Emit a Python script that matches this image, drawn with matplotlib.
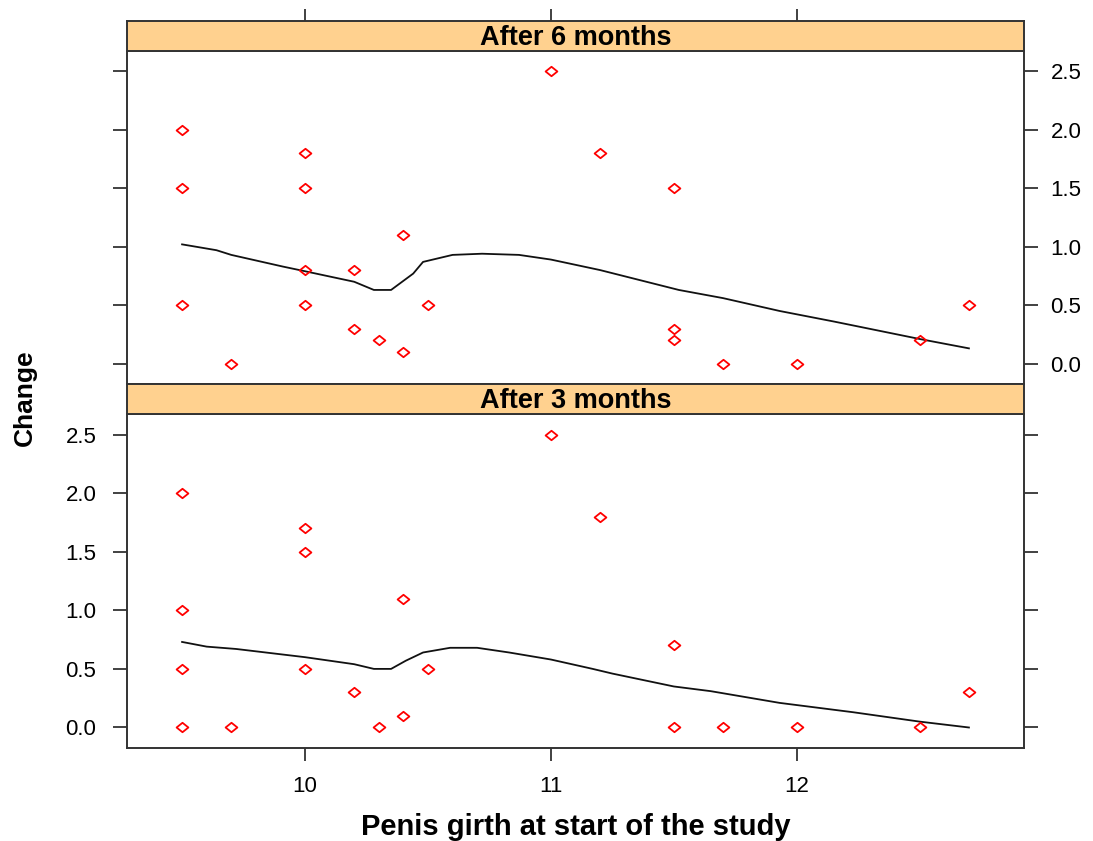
import matplotlib
matplotlib.use("Agg")
import matplotlib.pyplot as plt
from matplotlib.path import Path

plt.rcParams['font.family'] = ['Liberation Sans', 'DejaVu Sans']

# ---- data ----
panel_titles = ["After 6 months", "After 3 months"]

x6 = [9.5, 9.5, 9.5, 9.7, 10.0, 10.0, 10.0, 10.0, 10.2, 10.2, 10.3, 10.4, 10.4,
      10.5, 11.0, 11.2, 11.5, 11.5, 11.5, 11.7, 12.0, 12.5, 12.7]
y6 = [2.0, 1.5, 0.5, 0.0, 1.8, 1.5, 0.8, 0.5, 0.8, 0.3, 0.2, 1.1, 0.1,
      0.5, 2.5, 1.8, 1.5, 0.3, 0.2, 0.0, 0.0, 0.2, 0.5]

x3 = [9.5, 9.5, 9.5, 9.5, 9.7, 10.0, 10.0, 10.0, 10.2, 10.3, 10.4, 10.4,
      10.5, 11.0, 11.2, 11.5, 11.5, 11.7, 12.0, 12.5, 12.7]
y3 = [2.0, 1.0, 0.5, 0.0, 0.0, 1.7, 1.5, 0.5, 0.3, 0.0, 1.1, 0.1,
      0.5, 2.5, 1.8, 0.7, 0.0, 0.0, 0.0, 0.0, 0.3]

# smoother curves
sx6 = [9.5, 9.64, 9.7, 9.91, 10.0, 10.2, 10.28, 10.35, 10.44, 10.48, 10.6, 10.72,
       10.87, 11.0, 11.2, 11.52, 11.7, 11.93, 12.15, 12.5, 12.7]
sy6 = [1.02, 0.97, 0.93, 0.83, 0.79, 0.70, 0.63, 0.63, 0.77, 0.87, 0.93, 0.94,
       0.93, 0.89, 0.80, 0.63, 0.56, 0.45, 0.36, 0.21, 0.13]

sx3 = [9.5, 9.6, 9.72, 10.0, 10.2, 10.28, 10.35, 10.41, 10.48, 10.59, 10.7,
       10.83, 11.0, 11.17, 11.25, 11.5, 11.65, 11.93, 12.23, 12.5, 12.7]
sy3 = [0.73, 0.69, 0.67, 0.60, 0.54, 0.50, 0.50, 0.57, 0.64, 0.68, 0.68,
       0.64, 0.58, 0.50, 0.46, 0.35, 0.31, 0.21, 0.13, 0.05, 0.0]

xticks = [10, 11, 12]
yticks = [0.0, 0.5, 1.0, 1.5, 2.0, 2.5]
ytick_labels = ["0.0", "0.5", "1.0", "1.5", "2.0", "2.5"]

xlabel = "Penis girth at start of the study"
ylabel = "Change"

# ---- layout ----
W, H = 1093, 841
fig = plt.figure(figsize=(W / 100, H / 100), dpi=100)

def fx(px):
    return px / W

def fy(py):
    return 1 - py / H

left, right = 127, 1024
frame_col = "#333333"
strip_col = "#FFD18F"

diamond = Path([(-1, 0), (0, 0.8), (1, 0), (0, -0.8), (-1, 0)],
               [Path.MOVETO, Path.LINETO, Path.LINETO, Path.LINETO, Path.CLOSEPOLY])

xmin, xmax = 9.276, 12.924
ymin, ymax = -0.175, 2.675

panels = [
    dict(title=panel_titles[0], x=x6, y=y6, sx=sx6, sy=sy6, strip=(21, 51), plot=(51, 384), top=True),
    dict(title=panel_titles[1], x=x3, y=y3, sx=sx3, sy=sy3, strip=(384, 414), plot=(414, 748), top=False),
]

tick_fs = 16

for p in panels:
    s0, s1 = p["strip"]
    p0, p1 = p["plot"]
    ax = fig.add_axes([fx(left), fy(p1), fx(right - left), (p1 - p0) / H])
    sax = fig.add_axes([fx(left), fy(s1), fx(right - left), (s1 - s0) / H])

    ax.plot(p["sx"], p["sy"], color="#111111", lw=1.3, zorder=2)
    ax.plot(p["x"], p["y"], linestyle="none", marker=diamond, markersize=8.5,
            markerfacecolor="none", markeredgecolor="#FF0000", markeredgewidth=1.3, zorder=3)
    ax.set_xlim(xmin, xmax)
    ax.set_ylim(ymin, ymax)
    ax.set_xticks(xticks)
    ax.set_yticks(yticks)
    ax.set_yticklabels(ytick_labels)
    for sp in ax.spines.values():
        sp.set_color(frame_col)
        sp.set_linewidth(1.4)
    ax.tick_params(axis="y", direction="out", length=10, width=1.3, color=frame_col,
                   labelsize=tick_fs, labelcolor="black")
    ax.tick_params(axis="x", direction="out", length=9, width=1.3, color=frame_col,
                   labelsize=tick_fs, labelcolor="black", pad=11)
    if p["top"]:
        ax.tick_params(axis="x", bottom=False, labelbottom=False, top=False)
        ax.tick_params(axis="y", left=True, labelleft=False, right=True, labelright=True, pad=9)
    else:
        ax.tick_params(axis="x", bottom=True, labelbottom=True, top=False)
        ax.tick_params(axis="y", left=True, labelleft=True, right=True, labelright=False, pad=12)

    sax.set_facecolor(strip_col)
    sax.set_xlim(xmin, xmax)
    sax.set_ylim(0, 1)
    sax.set_yticks([])
    for sp in sax.spines.values():
        sp.set_color(frame_col)
        sp.set_linewidth(1.4)
    if p["top"]:
        sax.set_xticks(xticks)
        sax.tick_params(axis="x", bottom=False, labelbottom=False, top=True, labeltop=False,
                        direction="out", length=9, width=1.3, color=frame_col)
    else:
        sax.set_xticks([])
    sax.text(0.5, 0.42, p["title"], transform=sax.transAxes, ha="center", va="center",
             fontsize=19.5, fontweight="bold")

fig.text(fx((left + right) / 2), fy(827), xlabel, ha="center", va="center",
         fontsize=21, fontweight="bold")
fig.text(fx(25), fy(398), ylabel, ha="center", va="center", rotation=90,
         fontsize=19, fontweight="bold")

fig.savefig("out.png", dpi=100)
